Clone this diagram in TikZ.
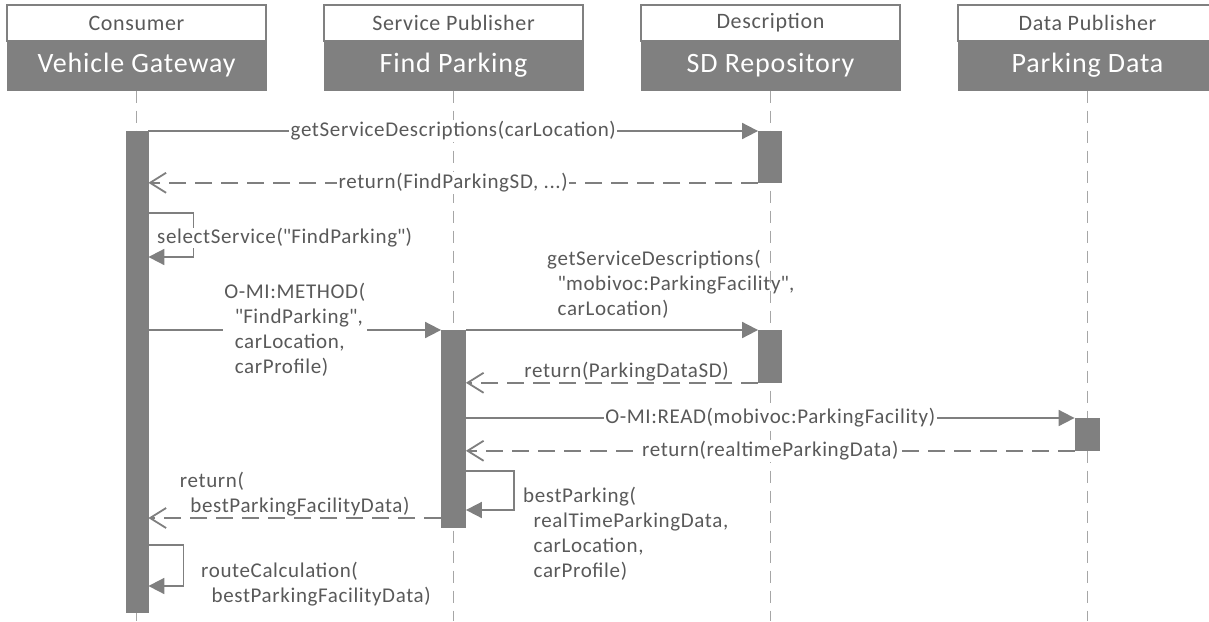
\documentclass[tikz,border=0pt]{standalone}
\usepackage{fontspec}
\setmainfont{Carlito}[LetterSpace=3]
\usetikzlibrary{arrows.meta}
\definecolor{boxgray}{HTML}{808080}
\definecolor{txtgray}{HTML}{595959}
\definecolor{linegray}{HTML}{7F7F7F}
\definecolor{lifegray}{HTML}{A6A6A6}
\newcommand\sq{\XeTeXglyph\XeTeXcharglyph"22\relax}
\begin{document}
\begin{tikzpicture}[x=1pt,y=-1pt,
  role/.style={draw=boxgray, line width=1.5pt, fill=white, minimum width=259pt, minimum height=36pt, inner sep=0pt, text=txtgray, font=\fontsize{22}{26}\selectfont},
  actor/.style={draw=boxgray, line width=1pt, fill=boxgray, minimum width=259pt, minimum height=49pt, inner sep=0pt, text=white, font=\fontsize{28}{32}\selectfont},
  life/.style={draw=lifegray, line width=1.5pt, dash pattern=on 12pt off 8pt},
  bar/.style={fill=boxgray, draw=boxgray, line width=0.8pt, inner sep=0pt, anchor=north},
  msg/.style={draw=linegray, line width=1.8pt, -{Triangle[length=16pt,width=16pt]}},
  ret/.style={draw=linegray, line width=1.8pt, dash pattern=on 17pt off 9pt, -{Straight Barb[length=16pt,width=20pt,line width=1.8pt]}},
  lbl/.style={fill=white, text=txtgray, inner sep=1.5pt, font=\fontsize{21}{25}\selectfont, align=left},
  lblt/.style={text=txtgray, inner sep=0pt, font=\fontsize{21}{25}\selectfont, align=left}
]
\useasboundingbox (0,0) rectangle (1209,621);
% headers
\node[role]  (r1) at (136.5,23) {Consumer};
\node[actor] (a1) at (136.5,65.5) {Vehicle Gateway};
\node[role]  (r2) at (453.5,23) {Service Publisher};
\node[actor] (a2) at (453.5,65.5) {Find Parking};
\node[role]  (r3) at (770.5,23) {Description};
\node[actor] (a3) at (770.5,65.5) {SD Repository};
\node[role]  (r4) at (1087.5,23) {Data Publisher};
\node[actor] (a4) at (1087.5,65.5) {Parking Data};
% lifelines
\coordinate (e1) at (a1.south |- 0,621);
\coordinate (e2) at (a2.south |- 0,621);
\coordinate (e3) at (a3.south |- 0,621);
\coordinate (e4) at (a4.south |- 0,621);
\draw[life] (a1.south) -- (e1);
\draw[life] (a2.south) -- (e2);
\draw[life] (a3.south) -- (e3);
\draw[life] (a4.south) -- (e4);
% activation bars
\node[bar, minimum width=22pt, minimum height=481pt] (cb)  at (137,131) {};
\node[bar, minimum width=24pt, minimum height=197pt] (fb)  at (453.5,330) {};
\node[bar, minimum width=23pt, minimum height=51pt]  (sb1) at (770,131) {};
\node[bar, minimum width=23pt, minimum height=52pt]  (sb2) at (770,330) {};
\node[bar, minimum width=24pt, minimum height=32pt]  (pb)  at (1087,418) {};
% messages
\draw[msg] (cb.north east) -- node[lbl] (l1) {getServiceDescriptions(carLocation)} (sb1.north west);
\draw[ret] (sb1.south west) -- node[lbl] (l2) {return(FindParkingSD, ...)} (cb.east |- sb1.south west);
% self call selectService
\coordinate (s1a) at (cb.east |- 0,213);
\coordinate (s1b) at (cb.east |- 0,257);
\draw[msg] (s1a) -- ++(45,0) |- (s1b);
\node[lbl, anchor=west, inner sep=1pt] (l3) at (156,238) {selectService(\sq FindParking\sq)};
% O-MI:METHOD
\draw[msg] (cb.east |- fb.north) -- node[lbl] (l4) {O-MI:METHOD(\\\hspace*{0.5em}\sq FindParking\sq,\\\hspace*{0.5em}carLocation,\\\hspace*{0.5em}carProfile)} (fb.north west);
% getServiceDescriptions( mobivoc )
\draw[msg] (fb.north east) -- (sb2.north west);
\node[lblt, anchor=south west] (l5) at (547,319) {getServiceDescriptions(\\\hspace*{0.5em}\sq mobivoc:ParkingFacility\sq,\\\hspace*{0.5em}carLocation)};
\draw[ret] (sb2.south west) -- node[lbl, above, inner sep=1pt, pos=0.45] (l6) {return(ParkingDataSD)} (fb.east |- sb2.south west);
% O-MI:READ
\draw[msg] (fb.east |- pb.north) -- node[lbl] (l7) {O-MI:READ(mobivoc:ParkingFacility)} (pb.north west);
\draw[ret] (pb.south west) -- node[lbl] (l8) {return(realtimeParkingData)} (fb.east |- pb.south west);
% self call bestParking
\coordinate (s2a) at (fb.east |- 0,471);
\coordinate (s2b) at (fb.east |- 0,510);
\draw[msg] (s2a) -- ++(48,0) |- (s2b);
\node[lblt, anchor=north west] (l9) at (523,487) {bestParking(\\\hspace*{0.5em}realTimeParkingData,\\\hspace*{0.5em}carLocation,\\\hspace*{0.5em}carProfile)};
% return bestParkingFacilityData
\coordinate (r8a) at (fb.west |- 0,518);
\coordinate (r8b) at (cb.east |- 0,518);
\draw[ret] (r8a) -- node[lbl, above, inner sep=1pt] (l10) {return(\\\hspace*{0.5em}bestParkingFacilityData)} (r8b);
% self call routeCalculation
\coordinate (s3a) at (cb.east |- 0,545);
\coordinate (s3b) at (cb.east |- 0,586);
\draw[msg] (s3a) -- ++(35,0) |- (s3b);
\node[lblt, anchor=north west] (l11) at (201,562) {routeCalculation(\\\hspace*{0.5em}bestParkingFacilityData)};
\end{tikzpicture}
\end{document}
